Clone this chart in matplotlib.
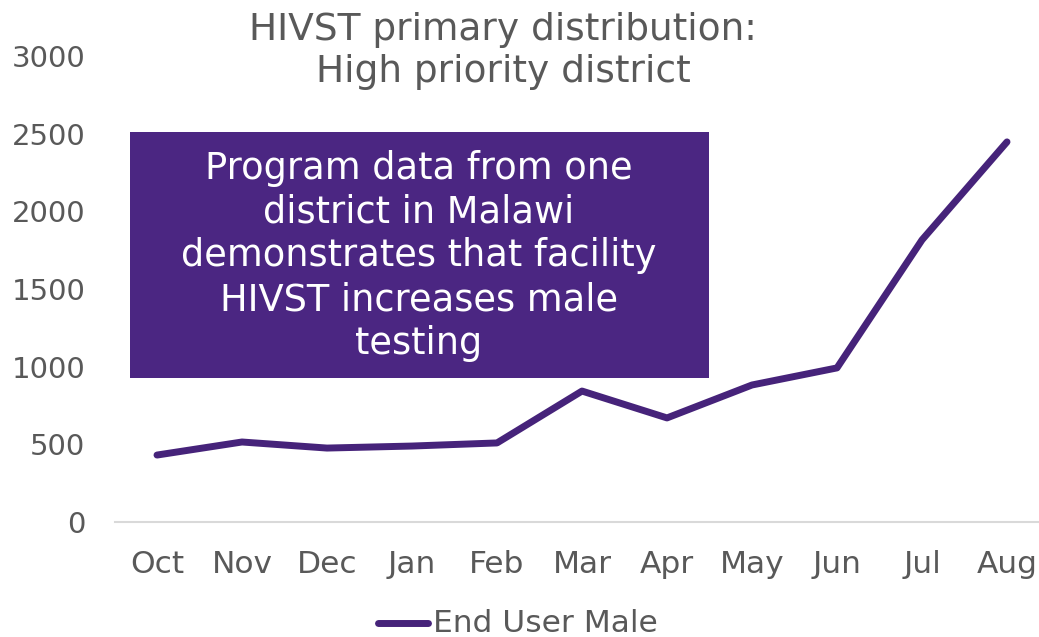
import matplotlib
matplotlib.use("Agg")
import matplotlib.pyplot as plt
from matplotlib.patches import Rectangle
from matplotlib.lines import Line2D

months = ["Oct", "Nov", "Dec", "Jan", "Feb", "Mar", "Apr", "May", "Jun", "Jul", "Aug"]
end_user_male = [431, 515, 476, 489, 509, 843, 670, 882, 992, 1816, 2447]
y_ticks = [0, 500, 1000, 1500, 2000, 2500, 3000]

W, H = 1039, 637
purple = "#46237A"
box_color = "#4B2682"
gray = "#595959"

fig = plt.figure(figsize=(W / 100, H / 100), dpi=100)
plt.rcParams['font.family'] = ['DejaVu Sans']

ax_left = 114.5 / W
ax_right = 1049.5 / W
ax_bottom = (H - 522) / H
ax_top = (H - 56) / H
ax = fig.add_axes([ax_left, ax_bottom, ax_right - ax_left, ax_top - ax_bottom])

x = list(range(len(months)))
ax.plot(x, end_user_male, color=purple, lw=5, solid_capstyle='round',
        solid_joinstyle='round', clip_on=False)

ax.set_xlim(-0.5, len(months) - 0.5)
ax.set_ylim(0, 3000)
ax.set_yticks(y_ticks)
ax.set_yticklabels([str(v) for v in y_ticks])
ax.set_xticks(x)
ax.set_xticklabels(months)
for s in ["top", "right", "left"]:
    ax.spines[s].set_visible(False)
ax.spines["bottom"].set_color("#D9D9D9")
ax.spines["bottom"].set_linewidth(1.5)
ax.tick_params(axis='both', length=0, labelcolor=gray)
ax.tick_params(axis='y', pad=21, labelsize=21)
ax.tick_params(axis='x', pad=20, labelsize=22.5)

# Title
fig.text(503 / W, 1 - 51 / H, "HIVST primary distribution:\nHigh priority district",
         ha='center', va='center', fontsize=27, color=gray, linespacing=1.22)

# Purple annotation box
bx0, by0, bx1, by1 = 130, 132, 709, 378
fig.patches.append(Rectangle((bx0 / W, 1 - by1 / H), (bx1 - bx0) / W, (by1 - by0) / H,
                             transform=fig.transFigure, facecolor=box_color,
                             edgecolor='none', zorder=5))
fig.text(419 / W, 1 - 256 / H,
         "Program data from one\ndistrict in Malawi\ndemonstrates that facility\nHIVST increases male\ntesting",
         ha='center', va='center', fontsize=26.5, color='white', linespacing=1.24, zorder=6)

# Legend
fig.lines.append(Line2D([378 / W, 428 / W], [1 - 623 / H, 1 - 623 / H],
                        transform=fig.transFigure, color=purple, lw=5,
                        solid_capstyle='round'))
fig.text(433 / W, 1 - 623 / H, "End User Male", ha='left', va='center',
         fontsize=22.5, color=gray)

fig.savefig("out.png", dpi=100)
